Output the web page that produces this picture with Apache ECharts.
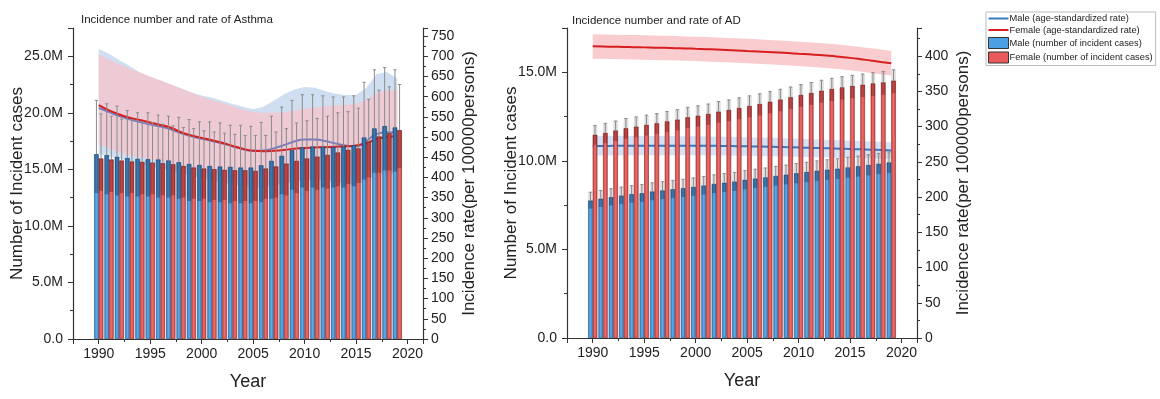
<!DOCTYPE html>
<html><head><meta charset="utf-8">
<script src="https://cdn.jsdelivr.net/npm/echarts@6/dist/echarts.min.js"></script>
<style>html,body{margin:0;padding:0;background:#fff}#c{width:1160px;height:399px}</style>
</head><body><div id="c"></div>
<script>
// ---------- DATA ----------
const years = [1990,1991,1992,1993,1994,1995,1996,1997,1998,1999,2000,2001,2002,2003,2004,2005,2006,2007,2008,2009,2010,2011,2012,2013,2014,2015,2016,2017,2018,2019];
const xTicks = [1990,1995,2000,2005,2010,2015,2020];

// Asthma: incident cases (millions)
const asthmaMaleCases   = [16.34,16.25,16.1,16.0,15.93,15.9,15.87,15.78,15.63,15.48,15.39,15.3,15.25,15.22,15.16,15.16,15.36,15.75,16.2,16.7,16.94,17.02,17.0,16.98,17.02,17.14,17.82,18.62,18.83,18.71];
const asthmaMaleUpper   = [21.1,20.8,20.6,20.2,20.0,20.0,19.8,19.7,19.6,19.4,19.2,19.2,19.1,18.9,18.9,18.8,19.15,19.7,20.5,21.1,21.6,21.6,21.5,21.4,21.4,21.5,22.7,23.8,24.0,23.8];
const asthmaMaleLower   = [12.9,12.8,12.7,12.6,12.6,12.6,12.5,12.5,12.4,12.2,12.2,12.1,12.1,12.0,12.0,12.0,12.1,12.4,12.8,13.2,13.4,13.4,13.4,13.4,13.4,13.5,14.1,14.7,14.9,14.8];
const asthmaFemaleCases = [15.96,15.87,15.78,15.69,15.66,15.6,15.54,15.45,15.3,15.16,15.07,15.01,14.95,14.92,14.92,14.86,15.07,15.25,15.51,15.75,15.96,16.13,16.28,16.49,16.72,16.85,17.43,17.91,18.2,18.47];
const asthmaFemaleUpper = [19.9,19.7,19.45,19.4,19.2,19.15,19.0,18.85,18.7,18.6,18.4,18.3,18.2,18.1,18.0,18.0,18.0,18.3,18.6,19.1,19.3,19.5,19.7,20.0,20.1,20.4,21.2,22.0,22.3,22.5];
const asthmaFemaleLower = [13.1,13.0,12.9,12.9,12.8,12.8,12.7,12.7,12.5,12.4,12.4,12.3,12.3,12.2,12.2,12.2,12.4,12.5,12.7,12.9,13.1,13.2,13.3,13.5,13.7,13.8,14.3,14.7,14.9,15.1];
// Asthma: age-standardized rate (per 100000)
const asthmaMaleRate    = [572,562,552,544,537,531,526,519,509,502,496,490,484,477,470,466,467,472,480,489,494,494,490,484,479,477,490,508,512,511];
const asthmaMaleRateUp  = [718,706,690,676,660,648,640,630,620,610,603,597,590,582,575,569,575,590,606,618,624,622,614,607,604,604,622,656,661,645];
const asthmaMaleRateLo  = [458,452,446,440,434,428,423,417,410,404,398,393,388,383,378,374,375,379,385,392,396,396,393,388,384,382,392,406,410,409];
const asthmaFemaleRate  = [579,566,556,548,542,536,530,523,512,504,498,492,486,478,471,466,465,466,468,471,473,474,475,476,477,479,485,495,500,502];
const asthmaFemaleRateUp= [705,692,680,670,660,650,640,630,620,610,600,592,584,576,568,562,560,560,562,566,570,573,576,578,580,582,592,610,616,616];
const asthmaFemaleRateLo= [482,471,462,455,450,445,440,434,425,418,413,408,403,397,391,387,386,387,389,391,393,394,395,396,397,398,403,411,415,417];

// AD: incident cases (millions)
const adMaleCases   = [7.76,7.86,7.95,8.04,8.12,8.17,8.27,8.33,8.40,8.46,8.53,8.61,8.70,8.76,8.83,8.93,9.00,9.07,9.15,9.22,9.30,9.37,9.44,9.50,9.56,9.63,9.70,9.77,9.84,9.91];
const adMaleUpper   = [8.23,8.33,8.43,8.52,8.6,8.66,8.76,8.82,8.9,8.96,9.04,9.12,9.21,9.28,9.35,9.45,9.53,9.6,9.69,9.76,9.85,9.92,10.0,10.06,10.12,10.2,10.27,10.35,10.42,10.5];
const adMaleLower   = [7.3,7.4,7.48,7.57,7.64,7.69,7.78,7.84,7.9,7.96,8.03,8.1,8.18,8.24,8.3,8.4,8.46,8.53,8.6,8.67,8.74,8.8,8.87,8.93,8.98,9.05,9.11,9.18,9.25,9.31];
const adFemaleCases = [11.47,11.58,11.71,11.84,11.93,12.03,12.12,12.23,12.33,12.46,12.55,12.65,12.78,12.87,12.99,13.1,13.21,13.34,13.46,13.59,13.72,13.83,13.96,14.06,14.15,14.23,14.3,14.37,14.43,14.53];
const adFemaleUpper = [12.0,12.12,12.25,12.39,12.48,12.58,12.67,12.79,12.89,13.02,13.11,13.21,13.35,13.44,13.56,13.67,13.79,13.92,14.04,14.17,14.31,14.42,14.55,14.66,14.75,14.83,14.9,14.98,15.04,15.14];
const adFemaleLower = [10.9,11.0,11.12,11.25,11.33,11.43,11.52,11.62,11.72,11.85,11.93,12.03,12.15,12.24,12.35,12.46,12.56,12.69,12.8,12.93,13.05,13.16,13.28,13.38,13.46,13.54,13.6,13.67,13.73,13.82];
// AD: age-standardized rate (per 100000)
const adMaleRate    = [272.5,272.6,272.7,272.8,272.9,272.9,273.0,273.0,273.0,273.0,272.9,272.8,272.7,272.5,272.3,272.1,271.8,271.5,271.2,270.8,270.4,270.0,269.6,269.2,268.7,268.3,267.8,267.3,266.8,266.3];
const adMaleRateUp  = [286.5,286.6,286.7,286.7,286.8,286.7,286.7,286.6,286.5,286.4,286.2,286.0,285.8,285.5,285.2,284.9,284.5,284.1,283.7,283.2,282.7,282.2,281.7,281.2,280.6,280.1,279.5,279.0,278.5,278.0];
const adMaleRateLo  = [259.0,259.1,259.2,259.3,259.4,259.4,259.5,259.5,259.5,259.5,259.4,259.3,259.2,259.0,258.8,258.6,258.4,258.1,257.8,257.5,257.2,256.9,256.6,256.3,256.0,255.7,255.4,255.0,254.7,254.4];
const adFemaleRate  = [414,413.7,413.4,413.1,412.8,412.5,412.1,411.8,411.4,411.0,410.5,410.0,409.4,408.8,408.2,407.5,406.8,406.0,405.2,404.4,403.5,402.6,401.6,400.5,399.1,397.6,395.8,393.8,391.9,390.0];
const adFemaleRateUp= [431,430.8,430.5,430.2,429.9,429.6,429.2,428.9,428.5,428.1,427.6,427.1,426.5,425.9,425.3,424.6,423.9,423.1,422.3,421.5,420.6,419.7,418.7,417.6,416.3,414.9,413.1,411.2,409.4,407.6];
const adFemaleRateLo= [396.5,396.2,395.9,395.6,395.3,395.0,394.6,394.3,393.9,393.5,393.0,392.5,391.9,391.3,390.7,390.0,389.3,388.5,387.7,386.9,386.0,385.1,384.1,383.0,381.6,380.1,378.3,376.3,374.4,372.5];

// ---------- STYLE ----------
const BAR_W = 4.6;
const FONT = "'Liberation Sans', Arial, sans-serif";
const AX = '#333';
const N_MR = 'Male (age-standardized rate)';
const N_FR = 'Female (age-standardized rate)';
const N_MC = 'Male (number of incident cases)';
const N_FC = 'Female (number of incident cases)';

const pair = (a) => years.map((y, i) => [y, a[i]]);
const triple = (lo, hi) => years.map((y, i) => [y, lo[i], hi[i]]);
const quad = (v, lo, hi) => years.map((y, i) => [y, v[i], lo[i], hi[i]]);

function bandSeries(g, lo, hi, color, z) {
  return {type:'custom', xAxisIndex:g, yAxisIndex:g*2+1, data:triple(lo, hi), silent:true, z:z,
    encode:{x:0, y:[1,2]},
    renderItem: function(params, api) {
      if (params.dataIndexInside !== 0) return null;
      const n = params.dataInsideLength;
      const top = [], bot = [];
      for (let j = 0; j < n; j++) {
        const x = api.value(0, j);
        top.push(api.coord([x, api.value(2, j)]));
        bot.push(api.coord([x, api.value(1, j)]));
      }
      return {type:'polygon', shape:{points: top.concat(bot.reverse())}, style:{fill:color}};
    }};
}
function lineSeries(g, name, v, color, z) {
  return {type:'line', name:name, xAxisIndex:g, yAxisIndex:g*2+1, data:pair(v), smooth:true,
    symbol:'none', showSymbol:false, lineStyle:{color:color, width:2}, itemStyle:{color:color}, z:z};
}
function barSeries(g, name, v, grad, border) {
  return {type:'bar', name:name, xAxisIndex:g, yAxisIndex:g*2, data:pair(v), barWidth:BAR_W, barGap:'0%',
    itemStyle:{color:{type:'linear', x:0, y:0, x2:1, y2:0, colorStops:[
      {offset:0, color:grad[0]}, {offset:0.5, color:grad[1]}, {offset:1, color:grad[0]}]},
      borderColor:border, borderWidth:0.6}, z:5};
}
function errSeries(g, v, lo, hi, side, dark, light) {
  return {type:'custom', xAxisIndex:g, yAxisIndex:g*2, data:quad(v, lo, hi), silent:true, z:6,
    encode:{x:0, y:[1,2,3]},
    renderItem: function(params, api) {
      const x = api.value(0);
      const pV = api.coord([x, api.value(1)]);
      const pL = api.coord([x, api.value(2)]);
      const pH = api.coord([x, api.value(3)]);
      const cx = pV[0] + side * BAR_W / 2;
      const ch = [];
      if (light) ch.push({type:'rect', shape:{x:cx-BAR_W/2, y:pH[1], width:BAR_W, height:pV[1]-pH[1]}, style:{fill:light}});
      ch.push({type:'rect', shape:{x:cx-BAR_W/2+0.3, y:pV[1], width:BAR_W-0.6, height:pL[1]-pV[1]}, style:{fill:dark}});
      ch.push({type:'line', shape:{x1:cx, y1:pV[1], x2:cx, y2:pH[1]}, style:{stroke:'#8a8a8a', lineWidth:1}});
      ch.push({type:'line', shape:{x1:cx-1.6, y1:pH[1], x2:cx+1.6, y2:pH[1]}, style:{stroke:'#8a8a8a', lineWidth:1}});
      return {type:'group', children:ch};
    }};
}
function xAxis(g) {
  return {type:'value', gridIndex:g, min:1987.5, max:2021.5, splitNumber:7,
    name:'Year', nameLocation:'middle', nameGap:34,
    nameTextStyle:{fontFamily:FONT, fontSize:18, color:'#222'},
    axisLine:{show:true, onZero:false, lineStyle:{color:AX, width:1.2}},
    axisTick:{show:true, length:5, lineStyle:{color:AX}},
    minorTick:{show:true, splitNumber:2, length:3, lineStyle:{color:AX}},
    splitLine:{show:false},
    axisLabel:{fontFamily:FONT, fontSize:14, color:'#222', margin:8, showMinLabel:false, showMaxLabel:false,
      formatter: v => xTicks.indexOf(v) >= 0 ? String(v) : ''}};
}
function yLeft(g, max) {
  return {type:'value', gridIndex:g, position:'left', min:0, max:max, interval:5,
    name:'Number of Incident cases', nameLocation:'middle', nameGap:47, nameRotate:90, nameMoveOverlap:false,
    nameTextStyle:{fontFamily:FONT, fontSize:17, color:'#222'},
    axisLine:{show:true, lineStyle:{color:AX, width:1.2}},
    axisTick:{show:true, length:5, lineStyle:{color:AX}},
    minorTick:{show:true, splitNumber:2, length:3, lineStyle:{color:AX}},
    splitLine:{show:false},
    axisLabel:{fontFamily:FONT, fontSize:14, color:'#222', margin:10, showMaxLabel:false,
      formatter: v => v === 0 ? '0.0' : v.toFixed(1) + 'M'}};
}
function yRight(g, max) {
  return {type:'value', gridIndex:g, position:'right', min:0, max:max, interval:50,
    name:'Incidence rate(per 100000persons)', nameLocation:'middle', nameGap:38, nameRotate:90,
    nameTextStyle:{fontFamily:FONT, fontSize:17, color:'#222'},
    axisLine:{show:true, lineStyle:{color:AX, width:1.2}},
    axisTick:{show:true, length:5, lineStyle:{color:AX}},
    minorTick:{show:true, splitNumber:2, length:3, lineStyle:{color:AX}},
    splitLine:{show:false},
    axisLabel:{fontFamily:FONT, fontSize:14, color:'#222', margin:8, showMaxLabel:false}};
}

const BLUE_GRAD = ['#3280c2', '#5cacea'];
const RED_GRAD = ['#cf4646', '#f06a6a'];
const BLUE_BORDER = '#25557f';
const RED_BORDER = '#7d2727';
const PINK_A = 'rgba(242,198,207,0.86)';
const LBLUE_A = 'rgba(188,211,236,0.72)';
const PINK_D = 'rgba(240,120,130,0.38)';
const LBLUE_D = 'rgba(150,188,230,0.42)';
const LINE_ICON = 'path://M0,0 L20,0 L20,2 L0,2 Z';

const series = [].concat(
  // Asthma (grid 0)
  [bandSeries(0, asthmaMaleRateLo, asthmaMaleRateUp, LBLUE_A, 1),
   bandSeries(0, asthmaFemaleRateLo, asthmaFemaleRateUp, PINK_A, 2),
   lineSeries(0, N_MR, asthmaMaleRate, '#7a80bf', 3),
   lineSeries(0, N_FR, asthmaFemaleRate, '#d81e1e', 4),
   barSeries(0, N_MC, asthmaMaleCases, BLUE_GRAD, BLUE_BORDER),
   barSeries(0, N_FC, asthmaFemaleCases, RED_GRAD, RED_BORDER),
   errSeries(0, asthmaMaleCases, asthmaMaleLower, asthmaMaleUpper, -1, 'rgba(10,40,80,0.38)', null),
   errSeries(0, asthmaFemaleCases, asthmaFemaleLower, asthmaFemaleUpper, 1, 'rgba(80,0,0,0.32)', null)],
  // AD (grid 1)
  [bandSeries(1, adMaleRateLo, adMaleRateUp, LBLUE_D, 1),
   lineSeries(1, N_MR, adMaleRate, '#3a78c0', 2),
   bandSeries(1, adFemaleRateLo, adFemaleRateUp, PINK_D, 3),
   lineSeries(1, N_FR, adFemaleRate, '#d81e1e', 4),
   barSeries(1, N_MC, adMaleCases, BLUE_GRAD, BLUE_BORDER),
   barSeries(1, N_FC, adFemaleCases, RED_GRAD, RED_BORDER),
   errSeries(1, adMaleCases, adMaleLower, adMaleUpper, -1, 'rgba(10,40,80,0.38)', 'rgba(170,170,170,0.35)'),
   errSeries(1, adFemaleCases, adFemaleLower, adFemaleUpper, 1, 'rgba(80,0,0,0.32)', 'rgba(170,170,170,0.35)')]
);

const chart = echarts.init(document.getElementById('c'), null, {renderer:'canvas'});
chart.setOption({
  backgroundColor:'#fff',
  animation:false,
  title:[
    {text:'Incidence number and rate of Asthma', left:76, top:9,
     textStyle:{fontFamily:FONT, fontSize:11.5, fontWeight:'normal', color:'#222'}},
    {text:'Incidence number and rate of AD', left:567, top:10,
     textStyle:{fontFamily:FONT, fontSize:11.5, fontWeight:'normal', color:'#222'}}
  ],
  legend:{
    orient:'vertical', left:986, top:12, itemGap:2.5, itemWidth:20, itemHeight:11,
    padding:[2,3,2,2], borderColor:'#bbb', borderWidth:1, backgroundColor:'#fff',
    textStyle:{fontFamily:FONT, fontSize:9.3, color:'#222', padding:[0,0,0,-4]},
    data:[
      {name:N_MR, icon:LINE_ICON, itemStyle:{color:'#3a78c0', borderWidth:0}},
      {name:N_FR, icon:LINE_ICON, itemStyle:{color:'#d81e1e', borderWidth:0}},
      {name:N_MC, icon:'rect', itemStyle:{color:'#4aa0e2', borderColor:'#333', borderWidth:1}},
      {name:N_FC, icon:'rect', itemStyle:{color:'#ea5a5c', borderColor:'#333', borderWidth:1}}
    ]
  },
  grid:[
    {left:73, top:28, width:350, height:311},
    {left:567, top:28, width:350, height:310}
  ],
  xAxis:[xAxis(0), xAxis(1)],
  yAxis:[yLeft(0, 27.5), yRight(0, 770), yLeft(1, 17.5), yRight(1, 440)],
  series:series
});
</script>
</body></html>
